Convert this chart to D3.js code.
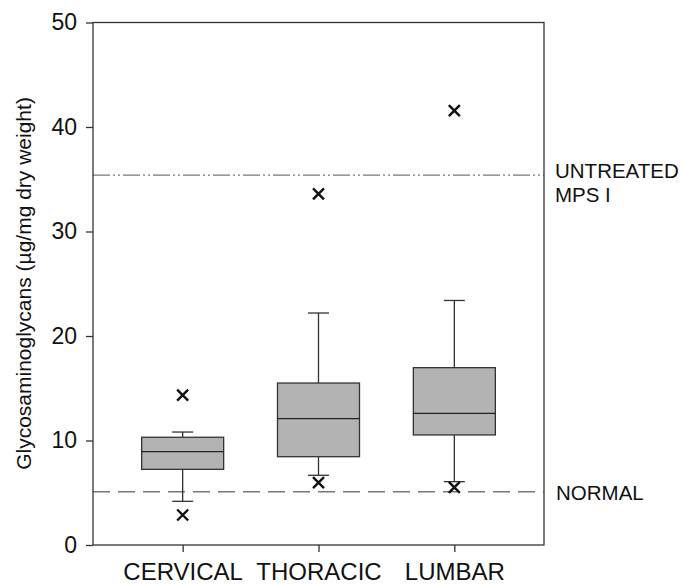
<!DOCTYPE html>
<html>
<head>
<meta charset="utf-8">
<script src="https://cdn.jsdelivr.net/npm/d3@7"></script>
<style>
  body { margin: 0; background: #fff; }
  text { font-family: "Liberation Sans", Arial, sans-serif; fill: #111; }
</style>
</head>
<body>
<div class="container"></div>
<script>
// box plot of GAG levels by spine region

var regions = ['CERVICAL', 'THORACIC', 'LUMBAR'];
var whiskerLow = [4.18, 6.67, 6.06];
var q1 = [7.24, 8.45, 10.53];
var median = [8.93, 12.09, 12.6];
var q3 = [10.31, 15.5, 16.97];
var whiskerHigh = [10.81, 22.2, 23.4];
var outliers = [[14.35, 2.87], [33.6, 5.96], [41.56, 5.52]];
var yTicks = [0, 10, 20, 30, 40, 50];
var untreatedLevel = 35.4;
var normalLevel = 5.1;

// note: "top" is taken by window.top, so plot edges get their own names
var width = 684, height = 585;
var plotLeft = 93, plotRight = 544, plotTop = 22.5, plotBottom = 545;

var svg = d3.select('.container').append('svg')
  .attr('width', width)
  .attr('height', height);

var x = d3.scalePoint().domain(regions).range([plotLeft, plotRight]).padding(0.66);
var y = d3.scaleLinear().domain([0, 50]).range([plotBottom, plotTop]);

var boxW = 82, capW = 21;

// reference lines first so boxes sit on top
svg.append('line')
  .attr('x1', plotLeft).attr('x2', plotRight)
  .attr('y1', y(untreatedLevel)).attr('y2', y(untreatedLevel))
  .attr('stroke', '#777').attr('stroke-width', 1.2)
  .attr('stroke-dasharray', '17,3,2,3,2,3');

svg.append('line')
  .attr('x1', plotLeft).attr('x2', plotRight)
  .attr('y1', y(normalLevel)).attr('y2', y(normalLevel))
  .attr('stroke', '#777').attr('stroke-width', 1.5)
  .attr('stroke-dasharray', '17,8');

var boxes = svg.selectAll('g.box').data(regions).enter().append('g').attr('class', 'box');

// whiskers
boxes.append('line')
  .attr('x1', function(d) { return x(d); })
  .attr('x2', function(d) { return x(d); })
  .attr('y1', function(d, i) { return y(whiskerHigh[i]); })
  .attr('y2', function(d, i) { return y(q3[i]); })
  .attr('stroke', '#333').attr('stroke-width', 1.3);
boxes.append('line')
  .attr('x1', function(d) { return x(d); })
  .attr('x2', function(d) { return x(d); })
  .attr('y1', function(d, i) { return y(q1[i]); })
  .attr('y2', function(d, i) { return y(whiskerLow[i]); })
  .attr('stroke', '#333').attr('stroke-width', 1.3);
boxes.append('line')
  .attr('x1', function(d) { return x(d) - capW / 2; })
  .attr('x2', function(d) { return x(d) + capW / 2; })
  .attr('y1', function(d, i) { return y(whiskerHigh[i]); })
  .attr('y2', function(d, i) { return y(whiskerHigh[i]); })
  .attr('stroke', '#333').attr('stroke-width', 1.3);
boxes.append('line')
  .attr('x1', function(d) { return x(d) - capW / 2; })
  .attr('x2', function(d) { return x(d) + capW / 2; })
  .attr('y1', function(d, i) { return y(whiskerLow[i]); })
  .attr('y2', function(d, i) { return y(whiskerLow[i]); })
  .attr('stroke', '#333').attr('stroke-width', 1.3);

boxes.append('rect')
  .attr('x', function(d) { return x(d) - boxW / 2; })
  .attr('width', boxW)
  .attr('y', function(d, i) { return y(q3[i]); })
  .attr('height', function(d, i) { return y(q1[i]) - y(q3[i]); })
  .attr('fill', '#b3b3b3')
  .attr('stroke', '#333').attr('stroke-width', 1.3);

boxes.append('line')
  .attr('x1', function(d) { return x(d) - boxW / 2; })
  .attr('x2', function(d) { return x(d) + boxW / 2; })
  .attr('y1', function(d, i) { return y(median[i]); })
  .attr('y2', function(d, i) { return y(median[i]); })
  .attr('stroke', '#222').attr('stroke-width', 1.3);

// outlier crosses
var pts = [];
regions.forEach(function(r, i) {
  outliers[i].forEach(function(v) { pts.push({ region: r, value: v }); });
});
var s = 5.5;
svg.selectAll('path.outlier').data(pts).enter().append('path')
  .attr('class', 'outlier')
  .attr('d', function(d) {
    var cx = x(d.region), cy = y(d.value);
    return 'M' + (cx - s) + ',' + (cy - s) + 'L' + (cx + s) + ',' + (cy + s) +
           'M' + (cx - s) + ',' + (cy + s) + 'L' + (cx + s) + ',' + (cy - s);
  })
  .attr('stroke', '#111').attr('stroke-width', 2.4).attr('fill', 'none');

// frame
svg.append('rect')
  .attr('x', plotLeft).attr('y', plotTop)
  .attr('width', plotRight - plotLeft).attr('height', plotBottom - plotTop)
  .attr('fill', 'none').attr('stroke', '#333').attr('stroke-width', 1.3);

// axes
var yAxis = svg.append('g')
  .attr('transform', 'translate(' + plotLeft + ',0)')
  .call(d3.axisLeft(y).tickValues(yTicks).tickSize(7).tickPadding(9));
yAxis.select('.domain').remove();
yAxis.selectAll('line').attr('stroke', '#333').attr('stroke-width', 1.3);
yAxis.selectAll('text').style('font-size', '23px').attr('fill', '#111')
  .style('font-family', '"Liberation Sans", Arial, sans-serif');

var xAxis = svg.append('g')
  .attr('transform', 'translate(0,' + plotBottom + ')')
  .call(d3.axisBottom(x).tickSize(7).tickPadding(11));
xAxis.select('.domain').remove();
xAxis.selectAll('line').attr('stroke', '#333').attr('stroke-width', 1.3);
xAxis.selectAll('text').style('font-size', '24px').attr('fill', '#111')
  .style('font-family', '"Liberation Sans", Arial, sans-serif');

svg.append('text')
  .attr('transform', 'translate(31,283.5) rotate(-90)')
  .attr('text-anchor', 'middle')
  .style('font-size', '21px')
  .text('Glycosaminoglycans (\u00b5g/mg dry weight)');

// reference labels
svg.append('text').attr('x', 555).attr('y', y(untreatedLevel) + 3)
  .style('font-size', '20.5px').text('UNTREATED');
svg.append('text').attr('x', 555).attr('y', y(untreatedLevel) + 27)
  .style('font-size', '20.5px').text('MPS I');
svg.append('text').attr('x', 556).attr('y', y(normalLevel) + 8)
  .style('font-size', '20.5px').text('NORMAL');
</script>
</body>
</html>
